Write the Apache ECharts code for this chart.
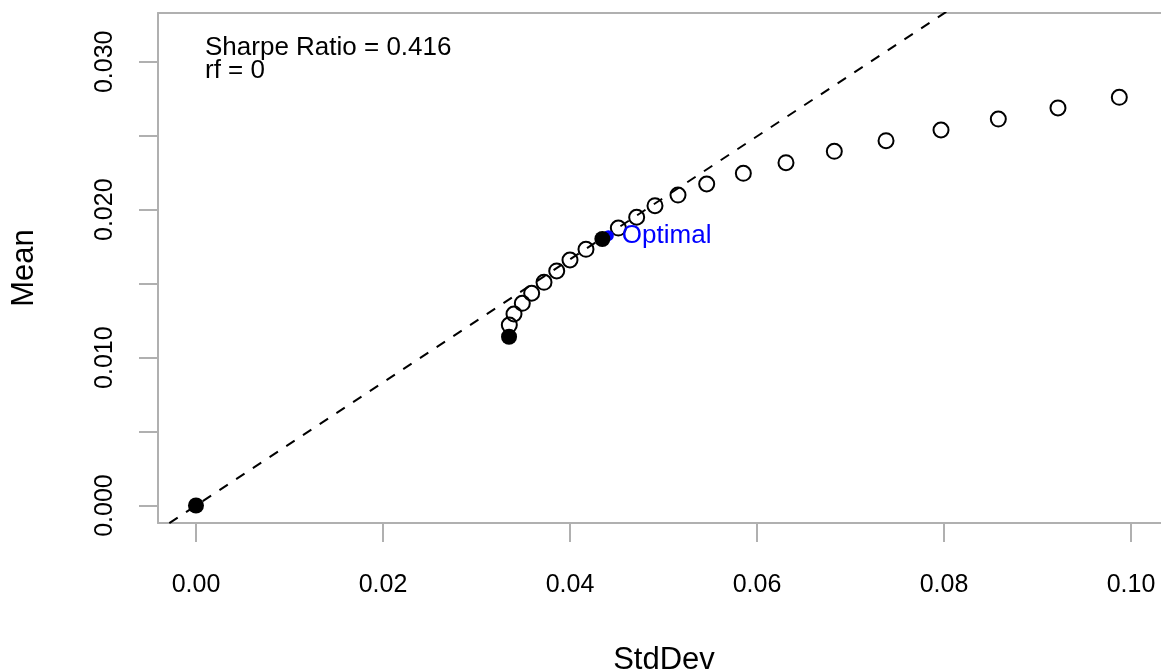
<!DOCTYPE html>
<html>
<head>
<meta charset="utf-8">
<script src="https://cdn.jsdelivr.net/npm/echarts@6/dist/echarts.min.js"></script>
<style>html,body{margin:0;padding:0;background:#fff;overflow:hidden}#c{width:1161px;height:672px}</style>
</head>
<body>
<div id="c"></div>
<script>
// Efficient frontier (open circles)
const frontierStd  = [0.03351,0.03401,0.03490,0.03590,0.03722,0.03858,0.04000,0.04171,0.04517,0.04713,0.04909,0.05155,0.05462,0.05854,0.06310,0.06827,0.07380,0.07968,0.08581,0.09219,0.09875];
const frontierMean = [0.01220,0.01295,0.01367,0.01435,0.01509,0.01586,0.01660,0.01732,0.01876,0.01949,0.02027,0.02099,0.02174,0.02246,0.02318,0.02395,0.02467,0.02539,0.02613,0.02688,0.02760];
// Filled points: risk free, minimum variance, tangency
const filledStd  = [0.00000, 0.03348, 0.04346];
const filledMean = [0.00000, 0.01141, 0.01802];
// Optimal portfolio (blue)
const optimalStd = [0.04410];
const optimalMean = [0.01824];
const optimalLabel = "Optimal";
// Tangent line
const sharpeRatio = 0.416;
const riskFree = 0;
const lineStdRange = [-0.01, 0.1];
// Ticks
const xTicks = [0, 0.02, 0.04, 0.06, 0.08, 0.10];
const yTicks = [0, 0.005, 0.010, 0.015, 0.020, 0.025, 0.030];
const yLabels = [0, 0.010, 0.020, 0.030];
const legendLines = ["Sharpe Ratio = 0.416", "rf = 0"];

const FONT = "'Liberation Sans', Arial, Helvetica, sans-serif";
const AX = '#b0b0b0';
const X_MIN = -0.004064, X_MAX = 0.104171;

const chart = echarts.init(document.getElementById('c'), null, {renderer: 'canvas'});
const zip = (a, b) => a.map((v, i) => [v, b[i]]);
const lineData = lineStdRange.map(s => [s, riskFree + sharpeRatio * s]);

chart.setOption({
  backgroundColor: '#fff',
  animation: false,
  grid: {left: 158, top: 13, width: 1012, height: 510, show: false,
         outerBoundsMode: 'none', containLabel: false},
  xAxis: [{
    type: 'value', min: X_MIN, max: X_MAX, position: 'bottom',
    splitLine: {show: false},
    axisLine: {show: true, onZero: false, lineStyle: {color: AX, width: 2}},
    axisTick: {show: true, inside: false, length: 19, lineStyle: {color: AX, width: 2}, customValues: xTicks},
    axisLabel: {show: true, customValues: xTicks, formatter: v => v.toFixed(2), fontFamily: FONT, fontSize: 25, color: '#000', margin: 50},
    name: 'StdDev', nameLocation: 'middle', nameGap: 122,
    nameTextStyle: {fontFamily: FONT, fontSize: 31, color: '#000'}
  }, {
    type: 'value', min: X_MIN, max: X_MAX, position: 'top',
    splitLine: {show: false},
    axisLine: {show: true, onZero: false, lineStyle: {color: AX, width: 2}},
    axisTick: {show: false}, axisLabel: {show: false}
  }],
  yAxis: {
    type: 'value', min: -0.001183, max: 0.0333,
    splitLine: {show: false},
    axisLine: {show: true, onZero: false, lineStyle: {color: AX, width: 2}},
    axisTick: {show: true, inside: false, length: 19, lineStyle: {color: AX, width: 2}, customValues: yTicks},
    axisLabel: {show: true, customValues: yLabels, rotate: 90, formatter: v => v.toFixed(3), fontFamily: FONT, fontSize: 25, color: '#000', margin: 40},
    name: 'Mean', nameLocation: 'middle', nameGap: 118, nameRotate: 90,
    nameTextStyle: {fontFamily: FONT, fontSize: 31, color: '#000'}
  },
  graphic: legendLines.map((t, i) => ({
    type: 'text', left: 205, top: 35 + i * 23, z: 10,
    style: {text: t, font: '26px ' + FONT, fill: '#000'}
  })),
  series: [
    {
      type: 'line', data: lineData, showSymbol: false, clip: true, silent: true,
      lineStyle: {color: '#000', width: 2, type: [10, 10]}, z: 1
    },
    {
      type: 'scatter', data: zip(frontierStd, frontierMean), symbol: 'circle', symbolSize: 15,
      itemStyle: {color: 'transparent', borderColor: '#000', borderWidth: 2, opacity: 1}, z: 2
    },
    {
      type: 'scatter', data: zip(optimalStd, optimalMean), symbol: 'circle', symbolSize: 11,
      itemStyle: {color: '#0000ff', opacity: 1}, z: 3,
      label: {show: true, position: 'right', distance: 8, formatter: optimalLabel, fontFamily: FONT, fontSize: 26, color: '#0000ff'}
    },
    {
      type: 'scatter', data: zip(filledStd, filledMean), symbol: 'circle', symbolSize: 16,
      itemStyle: {color: '#000', opacity: 1}, z: 4
    }
  ]
});
</script>
</body>
</html>
